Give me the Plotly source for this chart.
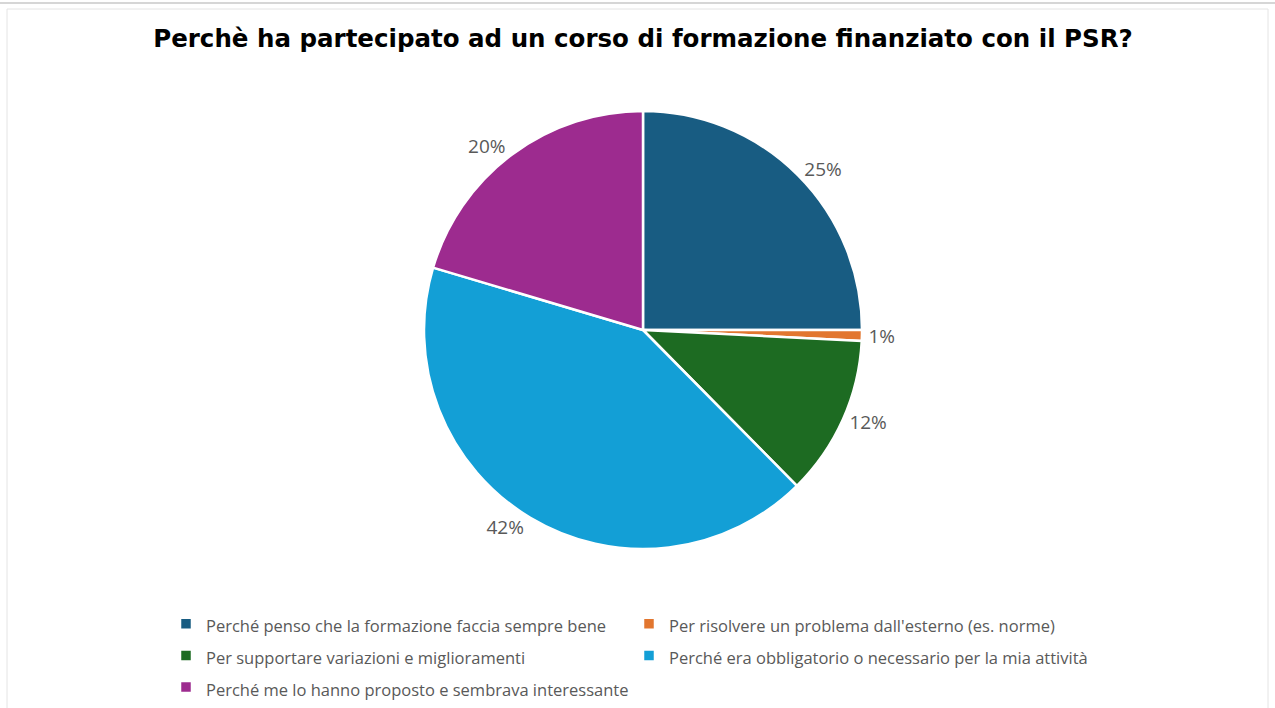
import plotly.graph_objects as go

# ---- data ----
categories = [
    "Perché penso che la formazione faccia sempre bene",
    "Per risolvere un problema dall'esterno (es. norme)",
    "Per supportare variazioni e miglioramenti",
    "Perché era obbligatorio o necessario per la mia attività",
    "Perché me lo hanno proposto e sembrava interessante",
]
values = [25.0, 0.8, 11.8, 42.0, 20.4]
colors = ["#185c82", "#e2762f", "#1d6b22", "#139fd6", "#9d2b8f"]
title_text = "Perchè ha partecipato ad un corso di formazione finanziato con il PSR?"

W, H = 1275, 708

legend_names = [f'<span style="font-size:16.5px">{c}</span>' for c in categories]

fig = go.Figure(
    go.Pie(
        labels=legend_names,
        values=values,
        sort=False,
        direction="clockwise",
        rotation=0,
        marker=dict(colors=colors, line=dict(color="white", width=2.5)),
        textposition="outside",
        texttemplate="%{percent:.0%}",
        textfont=dict(family="Open Sans", size=19, color="#595959"),
        domain=dict(x=[424 / W, 862 / W], y=[1 - 549 / H, 1 - 111 / H]),
        hoverinfo="label+percent",
    )
)

fig.update_layout(
    width=W,
    height=H,
    margin=dict(l=0, r=0, t=0, b=0),
    paper_bgcolor="white",
    plot_bgcolor="white",
    title=dict(
        text=f"<b>{title_text}</b>",
        x=643 / W,
        xanchor="center",
        y=1 - 38 / H,
        yanchor="middle",
        yref="paper",
        font=dict(family="DejaVu Sans", size=24.5, color="#000000"),
    ),
    showlegend=True,
    legend=dict(
        orientation="h",
        x=166 / W,
        xanchor="left",
        y=1 - 603 / H,
        yanchor="top",
        entrywidth=418,
        entrywidthmode="pixels",
        font=dict(family="Open Sans", size=22, color="#595959"),
        itemwidth=30,
        traceorder="normal",
        bgcolor="rgba(0,0,0,0)",
    ),
    shapes=[
        dict(type="line", xref="paper", yref="paper", x0=0, x1=1,
             y0=1 - 3 / H, y1=1 - 3 / H, line=dict(color="#c8c8c8", width=1.5)),
        dict(type="rect", xref="paper", yref="paper", x0=7 / W, x1=1268 / W,
             y0=-0.01, y1=1 - 9 / H, line=dict(color="#e4e4e4", width=1),
             fillcolor="rgba(0,0,0,0)", layer="below"),
    ],
)

fig.write_html(
    "out.html",
    config={"displayModeBar": False},
    post_script="document.body.style.margin='0';",
)
